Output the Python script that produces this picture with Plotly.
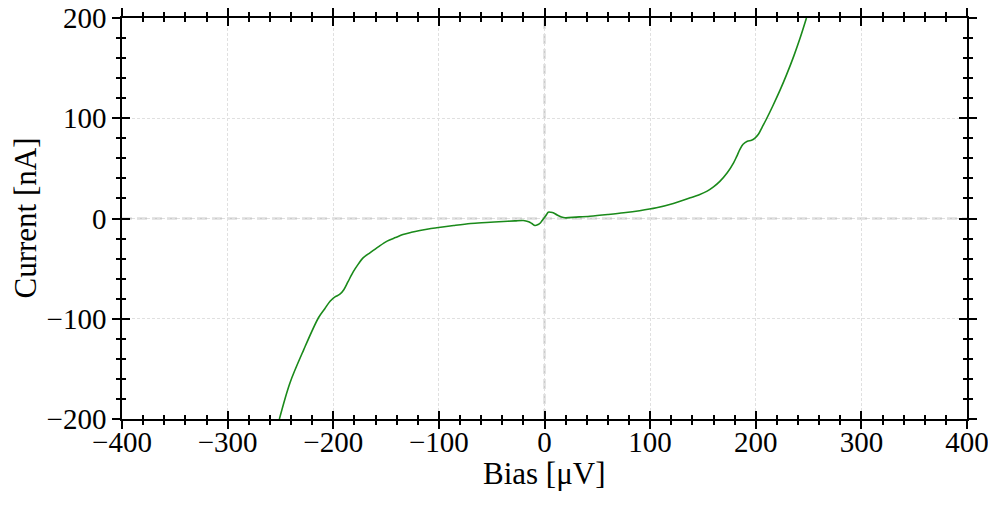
import plotly.graph_objects as go

# I-V curve (bias in uV, current in nA)
bias = [-251, -241, -228, -214, -208, -203, -198, -194, -190, -186, -181, -176, -172, -165,
        -157, -149, -141, -134, -126, -118, -110, -102, -86, -70, -55, -39, -28, -20, -15,
        -12, -9, -6, -4, -2.7, 0, 2, 3.6, 6, 8.3, 12, 16, 19.4, 30, 43, 60, 75, 90, 106,
        122, 138, 146, 154, 160, 166, 173, 179, 182, 185, 188, 192, 196, 199, 202.5,
        206, 210, 216, 223, 229, 236, 242, 248]
current = [-200, -164, -131, -99, -90, -82.5, -78, -75.8, -71, -63, -53, -45, -39.5, -34,
           -28, -22.6, -19, -16, -13.8, -12, -10.5, -9.3, -7, -5, -4, -3, -2.4, -2, -3.3,
           -5, -7, -6, -4.5, -2.7, 1, 4, 6.3, 6.2, 5.7, 3.5, 1.6, 0.7, 1.4, 2.3, 4, 5.7, 7.8, 10.7,
           15, 20.6, 23.5, 27.3, 31.5, 37, 45.6, 55.5, 62, 69, 74, 77, 78, 80, 84,
           91, 99, 112, 128, 143, 162, 180, 200]

x_ticks = [-400, -300, -200, -100, 0, 100, 200, 300, 400]
y_ticks = [-200, -100, 0, 100, 200]

font = "Liberation Serif"

fig = go.Figure()
fig.add_trace(go.Scatter(x=bias, y=current, mode="lines",
                         line=dict(color="#1a8a1a", width=1.6, shape="spline", smoothing=0.9),
                         showlegend=False, hoverinfo="x+y"))
# dummy trace so the inside-tick overlay axes get drawn
fig.add_trace(go.Scatter(x=[None], y=[None], xaxis="x2", yaxis="y2",
                         showlegend=False, hoverinfo="skip"))

# dashed zero lines
fig.add_shape(type="line", xref="x", yref="paper", x0=0, x1=0, y0=0, y1=1,
              line=dict(color="#cbcbcb", width=2, dash="10px,5px"), layer="below")
fig.add_shape(type="line", xref="paper", yref="y", x0=0, x1=1, y0=0, y1=0,
              line=dict(color="#cbcbcb", width=2, dash="10px,5px"), layer="below")

common = dict(showline=True, linecolor="black", linewidth=1.5,
              tickcolor="black", tickwidth=1.5, ticklen=8, mirror="ticks",
              zeroline=False, automargin=False)
minor_out = dict(ticks="outside", ticklen=4, tickwidth=1.5, tickcolor="black", dtick=20, showgrid=False)
minor_in = dict(ticks="inside", ticklen=4, tickwidth=1.5, tickcolor="black", dtick=20, showgrid=False)
grid = dict(showgrid=True, gridcolor="#e0e0e0", gridwidth=0.8, griddash="3px,2px")

# the page body adds 8px all round, so the figure is 16px smaller than the window
fig.update_layout(
    width=980, height=489,
    margin=dict(l=114, r=21, t=10, b=78),
    paper_bgcolor="white", plot_bgcolor="white",
    font=dict(family=font, color="black"),
    xaxis=dict(range=[-400, 400], tickvals=x_ticks, ticks="outside",
               tickfont=dict(size=29, family=font), ticklabelstandoff=-12,
               ticklabeloverflow="allow",
               minor=dict(tick0=0, **minor_out), **grid, **common),
    yaxis=dict(range=[-200, 200], tickvals=y_ticks, ticks="outside",
               tickfont=dict(size=29, family=font), ticklabeloverflow="allow",
               minor=dict(tick0=0, **minor_out), **grid, **common),
    xaxis2=dict(overlaying="x", matches="x", range=[-400, 400], tickvals=x_ticks,
                ticks="inside", showticklabels=False, showgrid=False,
                minor=dict(tick0=0, **minor_in), **common),
    yaxis2=dict(overlaying="y", matches="y", range=[-200, 200], tickvals=y_ticks,
                ticks="inside", showticklabels=False, showgrid=False,
                minor=dict(tick0=0, **minor_in), **common),
    annotations=[
        dict(text="Bias [μV]", xref="paper", yref="paper", x=0.5, y=0,
             xanchor="center", yanchor="middle", yshift=-54, showarrow=False,
             font=dict(size=31, family=font)),
        dict(text="Current [nA]", xref="paper", yref="paper", x=0, y=0.5,
             xanchor="center", yanchor="middle", xshift=-97, textangle=-90,
             showarrow=False, font=dict(size=31, family=font)),
    ],
)

fig.write_html("out.html")
